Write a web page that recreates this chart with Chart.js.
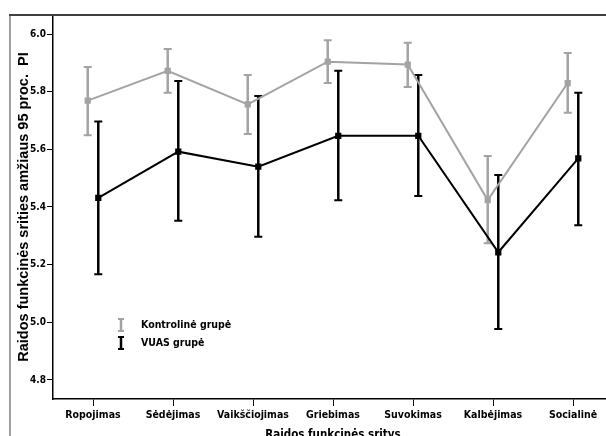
<!DOCTYPE html>
<html>
<head>
<meta charset="utf-8">
<script src="https://cdn.jsdelivr.net/npm/chart.js@4/dist/chart.umd.min.js"></script>
<style>
  html, body { margin: 0; padding: 0; background: #fff; overflow: hidden; }
  #wrap { position: relative; width: 618px; height: 436px; }
</style>
</head>
<body>
<div id="wrap"><canvas id="errChart"></canvas></div>
<script>
const categories = ["Ropojimas", "Sėdėjimas", "Vaikščiojimas", "Griebimas", "Suvokimas", "Kalbėjimas", "Socialinė"];
const yTicks = [4.8, 5.0, 5.2, 5.4, 5.6, 5.8, 6.0];

// Kontrolinė grupė: mean and 95% CI
const kontrMean = [5.769, 5.872, 5.756, 5.904, 5.894, 5.424, 5.830];
const kontrLow  = [5.649, 5.796, 5.653, 5.830, 5.816, 5.274, 5.727];
const kontrHigh = [5.886, 5.948, 5.858, 5.978, 5.970, 5.577, 5.934];

// VUAS grupė: mean and 95% CI
const vuasMean = [5.432, 5.592, 5.540, 5.647, 5.647, 5.243, 5.569];
const vuasLow  = [5.167, 5.352, 5.297, 5.423, 5.438, 4.977, 5.337];
const vuasHigh = [5.697, 5.837, 5.785, 5.873, 5.858, 5.511, 5.796];

const narrow = "'Liberation Sans Narrow', 'DejaVu Sans Condensed', sans-serif";
const grey = "#a3a3a3";
const dodge = 0.066;

const groups = [
  { label: "Kontrolinė grupė", mean: kontrMean, low: kontrLow, high: kontrHigh, color: grey, shift: -dodge },
  { label: "VUAS grupė", mean: vuasMean, low: vuasLow, high: vuasHigh, color: "#000000", shift: dodge }
];

// error bars + frame + legend
const errorBars = {
  id: "errorBars",
  beforeDatasetsDraw(chart) {
    const ctx = chart.ctx, xs = chart.scales.x, ys = chart.scales.y;
    ctx.save();
    groups.forEach(g => {
      ctx.strokeStyle = g.color;
      g.mean.forEach((m, i) => {
        const x = xs.getPixelForValue(i + g.shift);
        const y1 = ys.getPixelForValue(g.low[i]);
        const y2 = ys.getPixelForValue(g.high[i]);
        ctx.lineWidth = 2.5;
        ctx.beginPath();
        ctx.moveTo(x, y1); ctx.lineTo(x, y2);
        ctx.stroke();
        ctx.lineWidth = 2;
        ctx.beginPath();
        ctx.moveTo(x - 4, y1); ctx.lineTo(x + 4, y1);
        ctx.moveTo(x - 4, y2); ctx.lineTo(x + 4, y2);
        ctx.stroke();
      });
    });
    ctx.restore();
  },
  afterDraw(chart) {
    const ctx = chart.ctx, a = chart.chartArea;
    ctx.save();
    // outer frame
    ctx.strokeStyle = "#808080";
    ctx.lineWidth = 1.5;
    ctx.beginPath();
    ctx.moveTo(10, a.top); ctx.lineTo(10, chart.height);
    ctx.stroke();
    ctx.strokeStyle = "#404040";
    ctx.lineWidth = 2;
    ctx.beginPath();
    ctx.moveTo(9, a.top); ctx.lineTo(chart.width, a.top);
    ctx.stroke();
    // legend
    ctx.font = "bold 10.5px " + narrow;
    ctx.textBaseline = "middle";
    groups.forEach((g, k) => {
      const cx = 121, cy = 325 + k * 18;
      ctx.strokeStyle = g.color;
      ctx.fillStyle = "#000";
      ctx.lineWidth = 2.5;
      ctx.beginPath();
      ctx.moveTo(cx, cy - 6); ctx.lineTo(cx, cy + 6);
      ctx.stroke();
      ctx.lineWidth = 2;
      ctx.beginPath();
      ctx.moveTo(cx - 3, cy - 6); ctx.lineTo(cx + 3, cy - 6);
      ctx.moveTo(cx - 3, cy + 6); ctx.lineTo(cx + 3, cy + 6);
      ctx.stroke();
      ctx.fillText(g.label, 141, cy);
    });
    ctx.restore();
  }
};

new Chart(document.getElementById("errChart"), {
  type: "line",
  data: {
    datasets: groups.map(g => ({
      label: g.label,
      data: g.mean.map((m, i) => ({ x: i + g.shift, y: m })),
      borderColor: g.color,
      backgroundColor: g.color,
      borderWidth: 2,
      pointStyle: "rect",
      pointRadius: 3,
      pointHoverRadius: 3,
      tension: 0
    }))
  },
  options: {
    responsive: true,
    maintainAspectRatio: false,
    animation: false,
    layout: { padding: { top: 15, left: 0, right: 0, bottom: 0 } },
    plugins: {
      legend: { display: false },
      tooltip: { enabled: false }
    },
    scales: {
      x: {
        type: "linear",
        min: -0.5,
        max: 6.5,
        afterBuildTicks: s => { s.ticks = categories.map((c, i) => ({ value: i })); },
        afterFit: s => { s.height = 37; },
        grid: { display: true, drawOnChartArea: false, color: "#000", tickLength: 7, tickWidth: 1 },
        border: { display: true, color: "#000", width: 1.5 },
        ticks: {
          autoSkip: false,
          maxRotation: 0,
          padding: 3,
          color: "#000",
          font: { family: narrow, size: 10.5, weight: "bold" },
          callback: v => categories[v]
        },
        title: {
          display: true,
          text: "Raidos funkcinės sritys",
          color: "#000",
          padding: { top: 0, bottom: -6 },
          font: { family: narrow, size: 11.5, weight: "bold" }
        }
      },
      y: {
        min: 4.734,
        max: 6.066,
        afterBuildTicks: s => { s.ticks = yTicks.map(v => ({ value: v })); },
        afterFit: s => { s.width = 53; },
        grid: { display: true, drawOnChartArea: false, color: "#000", tickLength: 6, tickWidth: 1 },
        border: { display: true, color: "#000", width: 1.5 },
        ticks: {
          padding: 1,
          color: "#000",
          font: { family: narrow, size: 10, weight: "bold" },
          callback: v => v.toFixed(1)
        },
        title: {
          display: true,
          text: "Raidos funkcinės srities amžiaus 95 proc.  PI",
          color: "#000",
          padding: { top: 15, bottom: 0 },
          font: { family: "'Liberation Sans', Arial, sans-serif", size: 14.5, weight: "bold" }
        }
      }
    }
  },
  plugins: [errorBars]
});
</script>
</body>
</html>
